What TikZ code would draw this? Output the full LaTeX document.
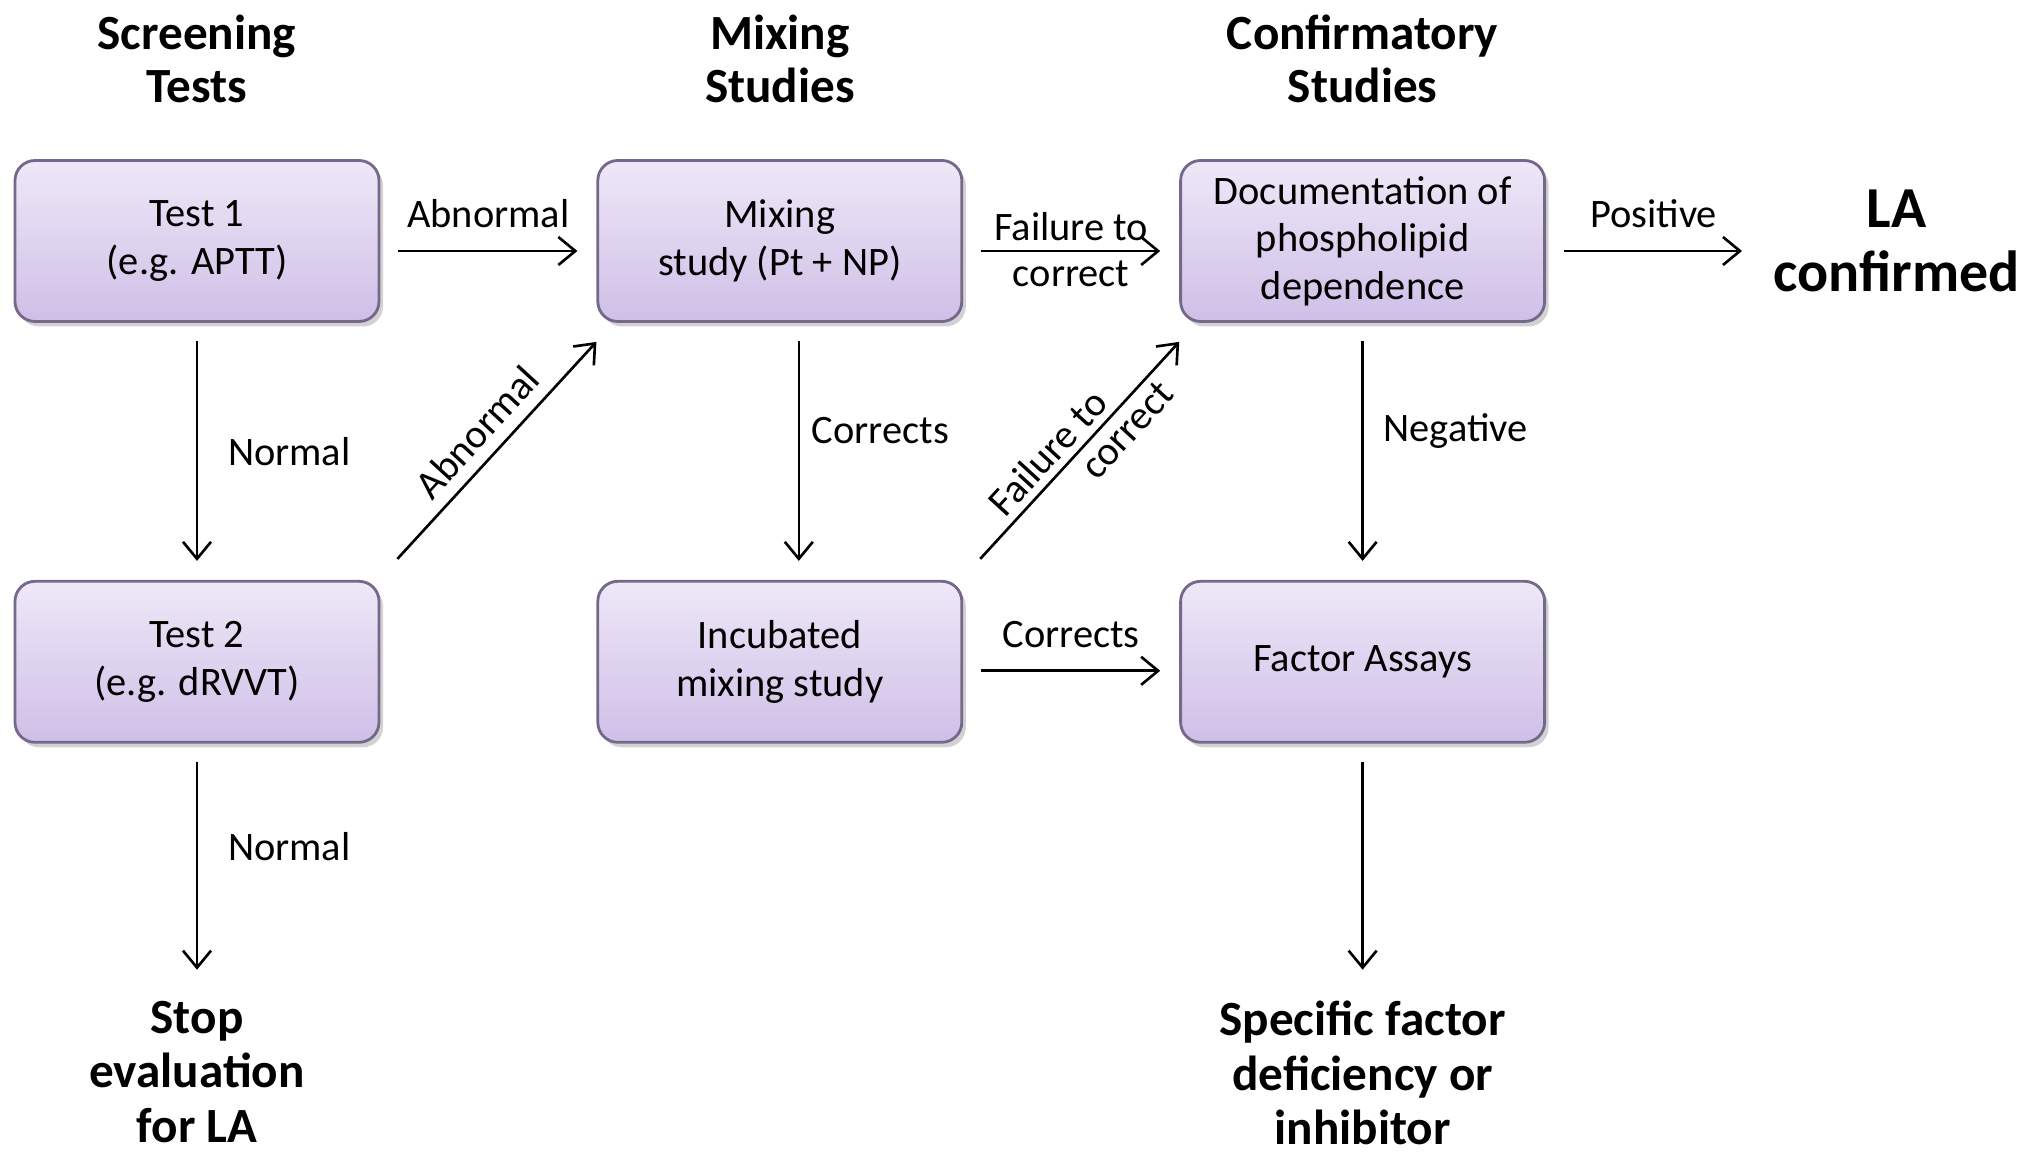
\documentclass[tikz,border=0pt]{standalone}
\usepackage{fontspec}
\setmainfont{Carlito}
\usetikzlibrary{positioning,shadows,arrows.meta}

\definecolor{boxtop}{HTML}{EEE8F8}
\definecolor{boxbot}{HTML}{CFBFE7}
\definecolor{boxline}{HTML}{76688A}

\tikzstyle{box} = [rectangle, rounded corners=0.2cm, minimum width=3.64cm, minimum height=1.61cm, text centered, align=center, draw=boxline, thick, top color=boxtop, bottom color=boxbot, drop shadow={shadow xshift=0.04cm, shadow yshift=-0.05cm, opacity=0.35}, font=\fontsize{11.5}{13.5}\selectfont]
\tikzstyle{heading} = [align=center, font=\fontsize{14}{15}\selectfont\bfseries]
\tikzstyle{outcome} = [align=center, font=\fontsize{14}{15.5}\selectfont\bfseries]
\tikzstyle{lbl} = [font=\fontsize{11.5}{13.5}\selectfont, align=center]
\tikzstyle{link} = [line width=0.75pt,->,>={Straight Barb[length=0.17cm,width=0.28cm]}]
\tikzstyle{arrow} = [link,shorten <=0.18cm,shorten >=0.19cm]

\begin{document}
\begin{tikzpicture}[node distance=2.57cm and 2.16cm]

\useasboundingbox[fill=white] (0,0) rectangle (20.17,-11.53);

% boxes
\node (test1) [box] at (1.97,-2.41) {Test 1\\(e.g. APTT)};
\node (mixing) [box, right=of test1] {Mixing\\study (Pt + NP)};
\node (phospho) [box, right=of mixing] {Documentation of\\phospholipid\\dependence};
\node (test2) [box, below=of test1] {Test 2\\(e.g. dRVVT)};
\node (incub) [box, below=of mixing] {Incubated\\mixing study};
\node (factor) [box, below=of phospho] {Factor Assays};

% headings
\node (hscreen) [heading, above=0.44cm of test1] {Screening\\Tests};
\node (hmixing) [heading, above=0.44cm of mixing] {Mixing\\Studies};
\node (hconfirm) [heading, above=0.44cm of phospho] {Confirmatory\\Studies};

% outcomes
\node (confirmed) [outcome, right=2.15cm of phospho, font=\fontsize{16.5}{18}\selectfont\bfseries] {LA\\confirmed};
\node (stop) [outcome, below=2.45cm of test2] {Stop\\evaluation\\for LA};
\node (specific) [outcome, below=2.45cm of factor] {Specific factor\\deficiency or\\inhibitor};

% connectors
\draw [arrow] ([yshift=-0.1cm]test1.east) -- node[lbl, above=0.1cm] {Abnormal} ([yshift=-0.1cm]mixing.west);
\draw [arrow] ([yshift=-0.1cm]mixing.east) -- node[lbl, above, inner sep=2.5pt] {Failure to} node[lbl, below, inner sep=2.5pt] {correct} ([yshift=-0.1cm]phospho.west);
\draw [arrow] ([yshift=-0.1cm]phospho.east) -- node[lbl, above=0.1cm] {Positive} ([yshift=-0.1cm]confirmed.west);
\draw [arrow] (test1) -- node[lbl, right=0.18cm] {Normal} (test2);
\draw [arrow] (test2) -- node[lbl, right=0.18cm, pos=0.42] {Normal} (stop);
\draw [arrow] ([xshift=0.19cm]mixing.south) -- node[lbl, right, pos=0.42] {Corrects} ([xshift=0.19cm]incub.north);
\draw [arrow] (phospho) -- node[lbl, right=0.08cm, pos=0.42] {Negative} (factor);
\draw [arrow] ([yshift=-0.09cm]incub.east) -- node[lbl, above=0.1cm] {Corrects} ([yshift=-0.09cm]factor.west);
\draw [arrow] (factor) -- (specific);
\draw [link] ([shift={(0.17,0.21)}]test2.north east) -- node[lbl, above, sloped] {Abnormal} ([yshift=-0.19cm]mixing.south west);
\draw [link] ([shift={(0.17,0.21)}]incub.north east) -- node[lbl, above, sloped, pos=0.42, inner sep=2pt] {Failure to} node[lbl, below, sloped, pos=0.66, inner sep=2pt] {correct} ([yshift=-0.19cm]phospho.south west);

\end{tikzpicture}
\end{document}
